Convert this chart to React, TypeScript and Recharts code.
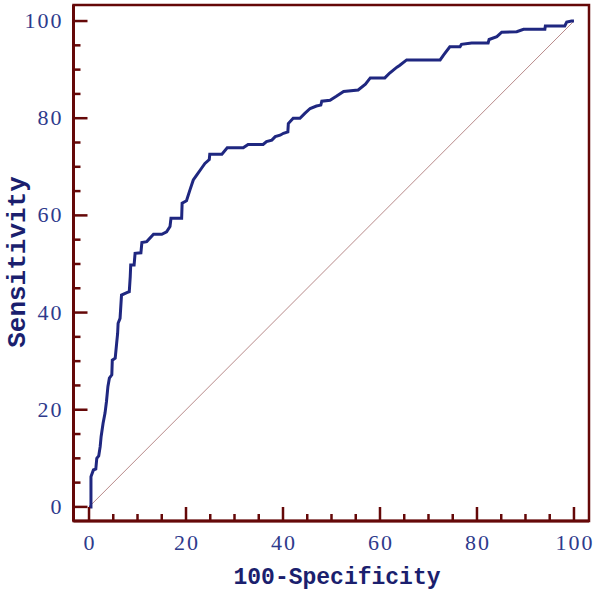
import React from 'react'
import {
  LineChart,
  Line,
  XAxis,
  YAxis,
  ReferenceLine,
  ReferenceArea,
  Label,
} from 'recharts'

// ROC curve
const fpr = [
  0, 0.4, 0.4, 0.9, 1.4, 1.6, 2.0, 2.3, 2.5, 2.9, 3.3, 3.6, 3.9, 4.2, 4.7, 4.8,
  5.4, 5.7, 5.9, 6.0, 6.4, 6.7, 7.8, 8.3, 8.5, 8.6, 9.3, 9.5, 10.7, 10.9, 11.9,
  13.3, 15.0, 16.0, 16.7, 16.9, 19.1, 19.2, 20.1, 20.8, 21.5, 22.2, 23.2, 23.9,
  24.8, 24.9, 27.4, 28.5, 31.8, 32.8, 35.9, 36.6, 37.7, 38.4, 39.4, 40.1, 41.0,
  41.1, 42.1, 43.5, 44.5, 45.6, 46.9, 47.8, 48.0, 49.7, 51.0, 52.5, 55.5, 57.0,
  58.0, 61.0, 62.0, 63.5, 64.1, 65.5, 72.4, 73.1, 74.4, 76.5, 76.8, 78.9, 82.3,
  82.5, 84.1, 85.1, 88.2, 89.6, 94.0, 94.1, 98.1, 98.5, 99.5, 100,
]
const tpr = [
  0, 0, 6.2, 7.6, 7.8, 10.0, 10.5, 12.4, 14.5, 17.2, 19.3, 21.7, 24.8, 26.5,
  27.2, 30.2, 30.6, 33.7, 35.7, 37.8, 38.8, 43.6, 44.1, 44.3, 47.4, 49.8, 49.8,
  52.2, 52.3, 54.4, 54.6, 56.1, 56.1, 56.6, 57.7, 59.4, 59.4, 62.5, 63.0, 65.2,
  67.3, 68.3, 69.7, 70.7, 71.5, 72.6, 72.6, 73.9, 73.9, 74.6, 74.6, 75.2, 75.5,
  76.2, 76.5, 76.9, 77.2, 78.9, 80.0, 80.0, 81.0, 82.0, 82.5, 82.7, 83.5, 83.7,
  84.5, 85.5, 85.8, 87.0, 88.3, 88.3, 89.3, 90.5, 90.9, 92.0, 92.0, 93.0, 94.7,
  94.7, 95.2, 95.5, 95.5, 96.2, 96.8, 97.7, 97.8, 98.3, 98.3, 99.0, 99.0, 99.8,
  100, 100,
]

const ticks = [0, 5, 10, 15, 20, 25, 30, 35, 40, 45, 50, 55, 60, 65, 70, 75, 80, 85, 90, 95, 100]

const FRAME = '#650808'
const CURVE = '#1f2780'
const TICK_TEXT = '#2e3a8c'
const TITLE = '#1b1f6e'

const data = fpr.map((x, i) => ({ x, y: tpr[i] }))

const XTick = (props: any) => {
  const { x, y, payload } = props
  const major = payload.value % 20 === 0
  return (
    <g>
      <line x1={x} y1={y} x2={x} y2={y - (major ? 14 : 7)} stroke={FRAME} strokeWidth={2.5} />
      {major && (
        <text
          x={x + 1}
          y={y + 29}
          textAnchor="middle"
          fill={TICK_TEXT}
          fontFamily="'Liberation Serif', serif"
          fontSize={22}
          letterSpacing={2}
        >
          {payload.value}
        </text>
      )}
    </g>
  )
}

const YTick = (props: any) => {
  const { x, y, payload } = props
  const major = payload.value % 20 === 0
  return (
    <g>
      <line x1={x} y1={y} x2={x + (major ? 14 : 7)} y2={y} stroke={FRAME} strokeWidth={2.5} />
      {major && (
        <text
          x={x - 10}
          y={y + 7}
          textAnchor="end"
          fill={TICK_TEXT}
          fontFamily="'Liberation Serif', serif"
          fontSize={22}
          letterSpacing={2}
        >
          {payload.value}
        </text>
      )}
    </g>
  )
}

export default function App() {
  return (
    <div style={{ position: 'absolute', left: 0, top: 0, width: 600, height: 599, background: '#fff' }}>
      <LineChart width={600} height={599} data={data} margin={{ top: 5, right: 11, bottom: 0, left: 0 }}>
        <XAxis
          type="number"
          dataKey="x"
          domain={[-3.2, 103.1]}
          ticks={ticks}
          interval={0}
          height={78}
          tickSize={0}
          tickMargin={0}
          tickLine={false}
          axisLine={{ stroke: FRAME, strokeWidth: 3 }}
          tick={<XTick />}
        >
          <Label
            content={() => (
              <text
                x={337}
                y={584}
                textAnchor="middle"
                fill={TITLE}
                fontFamily="'Liberation Mono', monospace"
                fontWeight="bold"
                fontSize={23}
              >
                100-Specificity
              </text>
            )}
          />
        </XAxis>
        <YAxis
          type="number"
          domain={[-2.9, 103.3]}
          ticks={ticks}
          interval={0}
          width={73.5}
          tickSize={0}
          tickMargin={0}
          tickLine={false}
          axisLine={{ stroke: FRAME, strokeWidth: 3 }}
          tick={<YTick />}
        >
          <Label
            content={() => (
              <text
                x={25}
                y={262}
                transform="rotate(-90 25 262)"
                textAnchor="middle"
                fill={TITLE}
                fontFamily="'Liberation Mono', monospace"
                fontWeight="bold"
                fontSize={26}
              >
                Sensitivity
              </text>
            )}
          />
        </YAxis>
        <ReferenceArea
          x1={-3.2}
          x2={103.1}
          y1={-2.9}
          y2={103.3}
          fill="none"
          stroke={FRAME}
          strokeWidth={2.5}
          ifOverflow="visible"
        />
        <ReferenceLine
          segment={[{ x: 0, y: 0 }, { x: 100, y: 100 }]}
          stroke="#b88a8a"
          strokeWidth={1}
        />
        <Line
          type="linear"
          dataKey="y"
          stroke={CURVE}
          strokeWidth={3}
          dot={false}
          isAnimationActive={false}
        />
      </LineChart>
    </div>
  )
}
